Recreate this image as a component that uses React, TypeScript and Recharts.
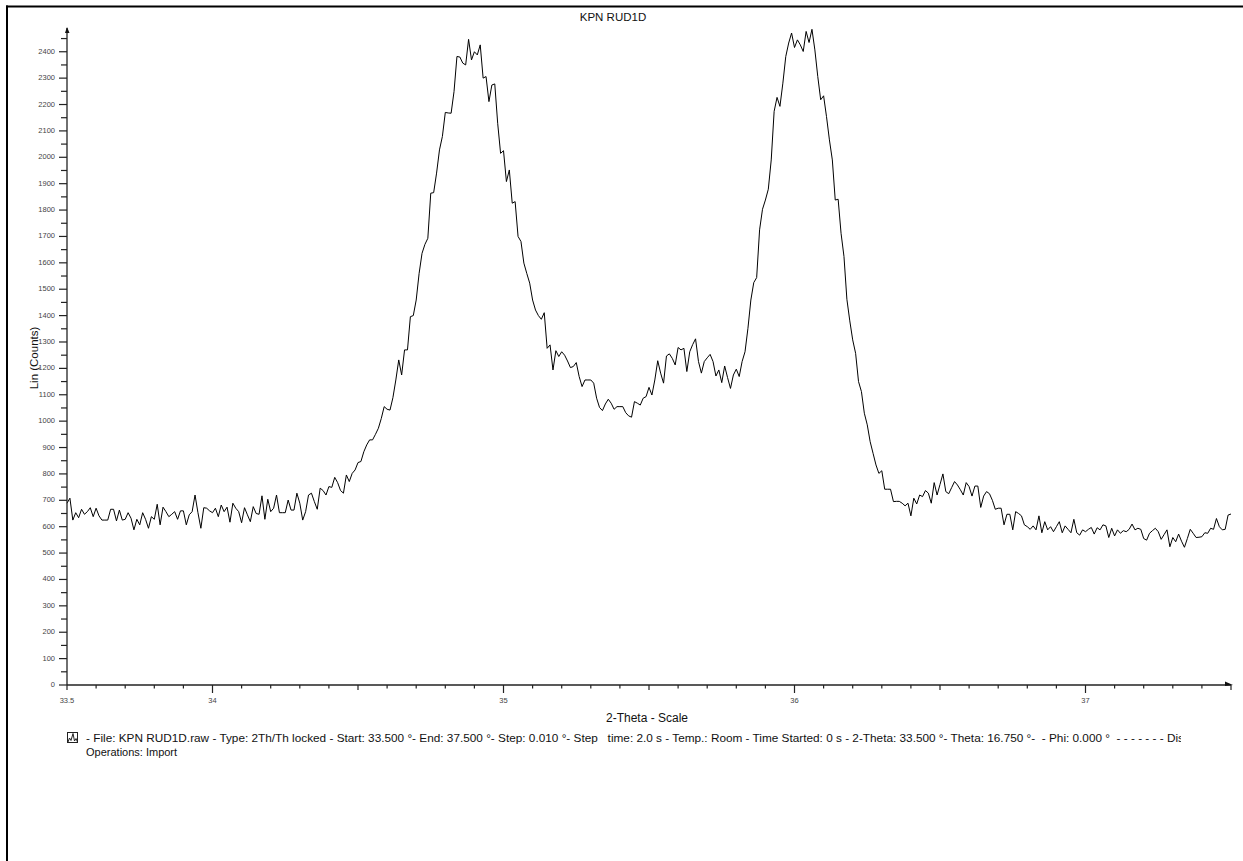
import { LineChart, Line, XAxis, YAxis } from 'recharts';

// scan settings, as printed in the legend line
const START = 33.5;
const STEP = 0.01;

// counts, one value per 0.01 deg step
// 33.50 - 34.49
const countsBaseline = [
  689, 708, 625, 653, 634, 666, 647, 657, 672, 638,
  670, 641, 625, 625, 625, 666, 666, 622, 663, 625,
  628, 653, 632, 588, 628, 607, 653, 628, 594, 638,
  628, 685, 607, 674, 657, 638, 647, 657, 628, 660,
  660, 607, 645, 657, 720, 653, 594, 672, 670, 660,
  653, 670, 638, 682, 657, 674, 617, 689, 670, 657,
  615, 672, 645, 619, 676, 650, 647, 717, 628, 704,
  657, 670, 720, 653, 653, 653, 701, 663, 663, 727,
  689, 625, 657, 720, 727, 695, 666, 746, 737, 720,
  752, 749, 787, 767, 737, 727, 796, 771, 802, 815,
];
// 34.50 - 34.69
const countsRise = [
  843, 847, 884, 910, 929, 929, 950, 973, 1010, 1055,
  1045, 1042, 1089, 1156, 1232, 1175, 1270, 1270, 1396, 1400,
];
// 34.70 - 35.09
const countsPeak1 = [
  1459, 1560, 1636, 1670, 1693, 1864, 1866, 1940, 2028, 2079,
  2170, 2168, 2167, 2249, 2382, 2380, 2357, 2350, 2447, 2369,
  2400, 2388, 2426, 2300, 2306, 2211, 2274, 2278, 2129, 2015,
  2025, 1908, 1952, 1826, 1832, 1700, 1681, 1599, 1560, 1523,
];
// 35.10 - 35.85
const countsValley = [
  1459, 1421, 1400, 1386, 1411, 1276, 1289, 1194, 1267, 1245,
  1263, 1250, 1228, 1203, 1207, 1222, 1169, 1131, 1156, 1156,
  1156, 1144, 1087, 1052, 1040, 1065, 1083, 1068, 1045, 1055,
  1055, 1055, 1032, 1020, 1015, 1074, 1068, 1061, 1087, 1093,
  1128, 1099, 1156, 1229, 1182, 1144, 1247, 1255, 1238, 1213,
  1279, 1270, 1276, 1188, 1263, 1290, 1312, 1226, 1182, 1226,
  1240, 1253, 1226, 1171, 1194, 1146, 1209, 1165, 1124, 1175,
  1197, 1169, 1226, 1263, 1352, 1459,
];
// 35.86 - 36.17
const countsPeak2 = [
  1525, 1544, 1725, 1803, 1838, 1879, 1990, 2174, 2227, 2193,
  2281, 2382, 2433, 2471, 2416, 2445, 2426, 2401, 2477, 2435,
  2485, 2407, 2306, 2218, 2233, 2154, 2066, 1990, 1838, 1841,
  1712, 1624,
];
// 36.18 - 36.39
const countsFall = [
  1462, 1380, 1308, 1257, 1150, 1112, 1030, 986, 922, 878,
  834, 802, 812, 742, 742, 742, 695, 696, 696, 689,
  679, 689,
];
// 36.40 - 36.95
const countsShoulder = [
  641, 708, 686, 720, 714, 737, 727, 689, 767, 720,
  760, 800, 733, 725, 748, 771, 758, 740, 720, 767,
  752, 716, 754, 754, 673, 716, 733, 725, 700, 666,
  670, 670, 607, 647, 647, 588, 657, 650, 641, 607,
  600, 590, 603, 588, 641, 577, 619, 588, 600, 581,
  600, 619, 577, 603, 590, 577,
];
// 36.96 - 37.50
const countsTail = [
  628, 577, 568, 588, 581, 590, 597, 572, 596, 588,
  607, 603, 559, 594, 565, 588, 575, 585, 581, 590,
  610, 588, 594, 590, 555, 549, 575, 585, 594, 581,
  552, 570, 588, 524, 559, 543, 572, 545, 522, 555,
  590, 575, 559, 560, 562, 577, 575, 594, 590, 631,
  600, 588, 590, 644, 648,
];

const counts = [
  ...countsBaseline, ...countsRise, ...countsPeak1, ...countsValley,
  ...countsPeak2, ...countsFall, ...countsShoulder, ...countsTail,
];

const data = counts.map((c, i) => ({ theta: +(START + i * STEP).toFixed(2), counts: c }));

const xTicks = Array.from({ length: 41 }, (_, i) => +(33.5 + i * 0.1).toFixed(1));
const xTickLabels = [33.5, 34, 35, 36, 37];
const yTicks = Array.from({ length: 50 }, (_, i) => i * 50);

const TITLE = 'KPN RUD1D';
const X_LABEL = '2-Theta - Scale';
const Y_LABEL = 'Lin (Counts)';
const LEGEND_LINE =
  '- File: KPN RUD1D.raw - Type: 2Th/Th locked - Start: 33.500 °- End: 37.500 °- Step: 0.010 °- Step   time: 2.0 s - Temp.: Room - Time Started: 0 s - 2-Theta: 33.500 °- Theta: 16.750 °-  - Phi: 0.000 °  - - - - - - - Dis';
const LEGEND_OPS = 'Operations: Import';

const W = 1243;
const H = 861;
const PLOT_LEFT = 67;
const PLOT_TOP = 28;
const PLOT_RIGHT = 1231;
const PLOT_BOTTOM = 685;
const FONT = '"Liberation Sans", Arial, Helvetica, sans-serif';

const XTick = (props: any) => {
  const { x, y, payload } = props;
  const v = payload.value;
  const whole = Math.abs(v - Math.round(v)) < 1e-6;
  const half = Math.abs(v * 2 - Math.round(v * 2)) < 1e-6;
  const len = whole ? 8 : half ? 5 : 3.5;
  const labelled = xTickLabels.some((t) => Math.abs(t - v) < 1e-6);
  return (
    <g>
      <line x1={x} x2={x} y1={y} y2={y + len} stroke="#222" strokeWidth={1.2} />
      {labelled && (
        <text x={x} y={y + 16} textAnchor="middle" dominantBaseline="middle" fontSize={7.5} fill="#444" fontFamily={FONT}>
          {v}
        </text>
      )}
    </g>
  );
};

const YTick = (props: any) => {
  const { x, y, payload } = props;
  const v = payload.value;
  const labelled = v % 100 === 0;
  const len = labelled ? 8 : 6;
  return (
    <g>
      <line x1={x - len} x2={x} y1={y} y2={y} stroke="#222" strokeWidth={1.2} />
      {labelled && (
        <text x={x - 12} y={y} textAnchor="end" dominantBaseline="middle" fontSize={7.5} fill="#444" fontFamily={FONT}>
          {v}
        </text>
      )}
    </g>
  );
};

export default function App() {
  return (
    <div style={{ position: 'absolute', left: 0, top: 0, width: W, height: H, background: '#fff' }}>
      <LineChart
        width={W}
        height={H}
        data={data}
        margin={{ top: PLOT_TOP, right: W - PLOT_RIGHT, bottom: 0, left: PLOT_LEFT - 60 }}
      >
        <XAxis
          type="number"
          dataKey="theta"
          domain={[33.5, 37.5]}
          ticks={xTicks}
          interval={0}
          tickSize={0}
          tickMargin={0}
          tickLine={false}
          height={H - PLOT_BOTTOM}
          axisLine={{ stroke: '#222', strokeWidth: 1.3 }}
          tick={(p: any) => <XTick {...p} />}
        />
        <YAxis
          type="number"
          domain={[0, 2490]}
          ticks={yTicks}
          interval={0}
          width={60}
          tickSize={0}
          tickMargin={0}
          tickLine={false}
          axisLine={{ stroke: '#222', strokeWidth: 1.3 }}
          tick={(p: any) => <YTick {...p} />}
        />
        <Line
          type="linear"
          dataKey="counts"
          stroke="#000"
          strokeWidth={1}
          dot={false}
          isAnimationActive={false}
        />
      </LineChart>

      <svg
        width={W}
        height={H}
        style={{ position: 'absolute', left: 0, top: 0, pointerEvents: 'none' }}
      >
        <defs>
          <clipPath id="legendClip">
            <rect x={0} y={720} width={1181} height={40} />
          </clipPath>
        </defs>
        {/* frame edges */}
        <rect x={6} y={5.5} width={W - 6} height={2} fill="#000" />
        <rect x={6} y={5.5} width={2} height={H - 5.5} fill="#000" />

        {/* axis arrows */}
        <polygon points={`${PLOT_LEFT},${PLOT_TOP - 1} ${PLOT_LEFT - 2},${PLOT_TOP + 5} ${PLOT_LEFT + 2.5},${PLOT_TOP + 5}`} fill="#111" />
        <polygon points={`${PLOT_RIGHT + 2},${PLOT_BOTTOM} ${PLOT_RIGHT - 6},${PLOT_BOTTOM - 3.5} ${PLOT_RIGHT - 6},${PLOT_BOTTOM + 1}`} fill="#111" />

        <text x={613} y={21} textAnchor="middle" fontSize={11.5} fontFamily={FONT} fill="#111">
          {TITLE}
        </text>
        <text x={647} y={722} textAnchor="middle" fontSize={12} fontFamily={FONT} fill="#111">
          {X_LABEL}
        </text>
        <text
          x={0}
          y={0}
          transform="translate(38 358) rotate(-90)"
          textAnchor="middle"
          fontSize={11.5}
          fontFamily={FONT}
          fill="#111"
        >
          {Y_LABEL}
        </text>

        {/* legend icon */}
        <rect x={67.5} y={732.5} width={10} height={10} fill="none" stroke="#222" strokeWidth={1} />
        <polyline points="68,742 69.5,738 71,740.5 73,733.5 74.5,741 76,738.5 77.5,742" fill="none" stroke="#222" strokeWidth={1} />

        <g clipPath="url(#legendClip)">
          <text
            x={86}
            y={742}
            fontSize={11}
            fontFamily={FONT}
            fill="#111"
            textLength={1098}
            lengthAdjust="spacingAndGlyphs"
            style={{ whiteSpace: 'pre' }}
          >
            {LEGEND_LINE}
          </text>
        </g>
        <text x={86} y={756} fontSize={11} fontFamily={FONT} fill="#111">
          {LEGEND_OPS}
        </text>
      </svg>
    </div>
  );
}
